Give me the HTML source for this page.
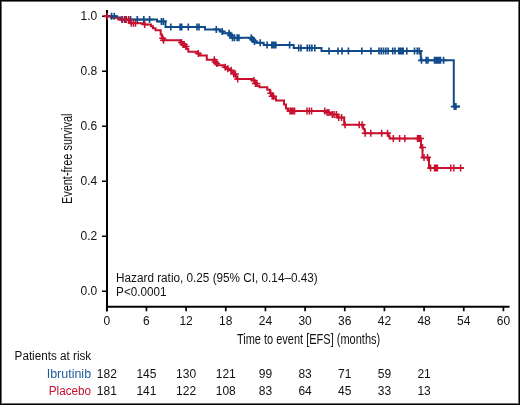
<!DOCTYPE html>
<html><head><meta charset="utf-8"><style>
html,body{margin:0;padding:0;background:#fff;}
body{width:520px;height:405px;overflow:hidden;}
svg{display:block;will-change:transform;}
text{font-family:"Liberation Sans",sans-serif;font-size:12px;fill:#111;}
</style></head><body>
<svg width="520" height="405" viewBox="0 0 520 405">
<rect x="0" y="0" width="520" height="405" fill="#fff"/>
<g fill="none" stroke="#000" stroke-width="1.5">
<path d="M102 16.3H106M102 71.3H106M102 126.3H106M102 181.3H106M102 236.3H106M102 291.3H106"/>
<path d="M106.80 306V311.3M146.46 306V311.3M186.12 306V311.3M225.78 306V311.3M265.44 306V311.3M305.10 306V311.3M344.76 306V311.3M384.42 306V311.3M424.08 306V311.3M463.74 306V311.3M503.40 306V311.3" stroke-width="1.7"/>
<path d="M107 10.1V311.3" stroke-width="2"/>
<path d="M106 306.8H509.6" stroke-width="1.9"/>
</g>
<g fill="none" stroke-linejoin="miter" stroke-linecap="butt">
<path d="M107.0 16.3 H117.0 V17.6 H121.0 V19.6 H157.0 V21.4 H165.5 V27.0 H205.0 V29.4 H220.2 V31.4 H222.8 V33.3 H229.8 V35.3 H231.8 V37.8 H252.0 V39.6 H254.0 V41.4 H256.2 V42.8 H263.7 V45.0 H293.7 V48.1 H321.5 V51.1 H420.8 V60.3 H453.8 V106.6 H460.0" stroke="#114b89" stroke-width="2"/>
<path d="M104.0 16.3 H111.0 V17.7 H118.3 V19.4 H130.2 V23.2 H142.8 V23.5 H144.5 V24.6 H151.0 V26.3 H153.0 V28.2 H155.5 V30.3 H160.7 V34.5 H161.8 V38.3 H163.4 V40.2 H180.4 V42.5 H182.5 V44.5 H184.5 V46.5 H186.5 V49.0 H188.3 V51.8 H197.5 V53.4 H199.9 V55.4 H206.8 V59.8 H214.3 V62.0 H215.8 V63.6 H217.2 V65.2 H224.6 V67.2 H227.1 V68.7 H228.6 V70.2 H231.5 V72.2 H233.5 V74.1 H235.5 V76.1 H236.5 V78.9 H252.4 V80.4 H255.0 V83.4 H257.0 V85.8 H259.5 V87.3 H267.3 V89.8 H270.0 V93.2 H272.0 V96.2 H274.0 V98.2 H276.0 V100.6 H284.0 V104.6 H286.0 V108.5 H288.0 V110.9 H325.4 V112.6 H330.4 V114.6 H337.5 V117.6 H344.2 V124.8 H363.3 V129.0 H364.6 V133.2 H388.6 V136.3 H389.6 V138.6 H421.0 V147.5 H422.5 V157.5 H429.0 V168.0 H463.5" stroke="#c8102e" stroke-width="2"/>
<path d="M111.6 12.8V19.8M108.1 16.3H115.1M114.3 12.8V19.8M110.8 16.3H117.8M122.5 16.1V23.1M119.0 19.6H126.0M124.8 16.1V23.1M121.3 19.6H128.3M130.5 16.1V23.1M127.0 19.6H134.0M137.3 16.1V23.1M133.8 19.6H140.8M143.8 16.1V23.1M140.3 19.6H147.3M149.6 16.1V23.1M146.1 19.6H153.1M161.4 17.9V24.9M157.9 21.4H164.9M163.4 17.9V24.9M159.9 21.4H166.9M170.8 23.5V30.5M167.3 27.0H174.3M180.1 23.5V30.5M176.6 27.0H183.6M181.7 23.5V30.5M178.2 27.0H185.2M188.3 23.5V30.5M184.8 27.0H191.8M197.0 23.5V30.5M193.5 27.0H200.5M199.0 23.5V30.5M195.5 27.0H202.5M216.3 25.9V32.9M212.8 29.4H219.8M222.2 27.9V34.9M218.7 31.4H225.7M229.1 29.8V36.8M225.6 33.3H232.6M230.6 31.8V38.8M227.1 35.3H234.1M232.5 34.3V41.3M229.0 37.8H236.0M234.5 34.3V41.3M231.0 37.8H238.0M237.2 34.3V41.3M233.7 37.8H240.7M238.9 34.3V41.3M235.4 37.8H242.4M251.3 34.3V41.3M247.8 37.8H254.8M252.7 36.1V43.1M249.2 39.6H256.2M254.5 37.9V44.9M251.0 41.4H258.0M260.2 39.3V46.3M256.7 42.8H263.7M267.1 41.5V48.5M263.6 45.0H270.6M271.8 41.5V48.5M268.3 45.0H275.3M272.9 41.5V48.5M269.4 45.0H276.4M274.1 41.5V48.5M270.6 45.0H277.6M275.8 41.5V48.5M272.3 45.0H279.3M289.6 41.5V48.5M286.1 45.0H293.1M298.7 44.6V51.6M295.2 48.1H302.2M301.0 44.6V51.6M297.5 48.1H304.5M307.3 44.6V51.6M303.8 48.1H310.8M309.6 44.6V51.6M306.1 48.1H313.1M311.9 44.6V51.6M308.4 48.1H315.4M314.8 44.6V51.6M311.3 48.1H318.3M329.0 47.6V54.6M325.5 51.1H332.5M338.0 47.6V54.6M334.5 51.1H341.5M342.0 47.6V54.6M338.5 51.1H345.5M348.4 47.6V54.6M344.9 51.1H351.9M361.8 47.6V54.6M358.3 51.1H365.3M370.9 47.6V54.6M367.4 51.1H374.4M379.0 47.6V54.6M375.5 51.1H382.5M381.2 47.6V54.6M377.7 51.1H384.7M383.5 47.6V54.6M380.0 51.1H387.0M385.8 47.6V54.6M382.3 51.1H389.3M388.1 47.6V54.6M384.6 51.1H391.6M392.7 47.6V54.6M389.2 51.1H396.2M395.0 47.6V54.6M391.5 51.1H398.5M398.7 47.6V54.6M395.2 51.1H402.2M400.2 47.6V54.6M396.7 51.1H403.7M401.7 47.6V54.6M398.2 51.1H405.2M403.2 47.6V54.6M399.7 51.1H406.7M406.8 47.6V54.6M403.3 51.1H410.3M414.5 47.6V54.6M411.0 51.1H418.0M417.3 47.6V54.6M413.8 51.1H420.8M419.3 47.6V54.6M415.8 51.1H422.8M421.5 56.8V63.8M418.0 60.3H425.0M426.2 56.8V63.8M422.7 60.3H429.7M428.0 56.8V63.8M424.5 60.3H431.5M434.5 56.8V63.8M431.0 60.3H438.0M436.0 56.8V63.8M432.5 60.3H439.5M437.5 56.8V63.8M434.0 60.3H441.0M439.0 56.8V63.8M435.5 60.3H442.5M440.5 56.8V63.8M437.0 60.3H444.0M443.6 56.8V63.8M440.1 60.3H447.1M454.3 103.1V110.1M450.8 106.6H457.8M455.9 103.1V110.1M452.4 106.6H459.4" stroke="#114b89" stroke-width="1.65"/>
<path d="M107.2 12.8V19.8M103.7 16.3H110.7M121.9 15.9V22.9M118.4 19.4H125.4M125.3 15.9V22.9M121.8 19.4H128.8M126.4 15.9V22.9M122.9 19.4H129.9M128.7 15.9V22.9M125.2 19.4H132.2M131.2 19.7V26.7M127.7 23.2H134.7M133.4 19.7V26.7M129.9 23.2H136.9M135.5 19.7V26.7M132.0 23.2H139.0M144.7 21.1V28.1M141.2 24.6H148.2M162.7 34.8V41.8M159.2 38.3H166.2M163.6 36.7V43.7M160.1 40.2H167.1M181.5 39.0V46.0M178.0 42.5H185.0M183.0 41.0V48.0M179.5 44.5H186.5M184.2 41.0V48.0M180.7 44.5H187.7M186.0 43.0V50.0M182.5 46.5H189.5M198.3 49.9V56.9M194.8 53.4H201.8M214.3 56.3V63.3M210.8 59.8H217.8M215.2 58.5V65.5M211.7 62.0H218.7M216.7 60.1V67.1M213.2 63.6H220.2M225.3 63.7V70.7M221.8 67.2H228.8M227.8 65.2V72.2M224.3 68.7H231.3M231.2 66.7V73.7M227.7 70.2H234.7M233.7 70.6V77.6M230.2 74.1H237.2M235.4 70.6V77.6M231.9 74.1H238.9M237.7 75.4V82.4M234.2 78.9H241.2M253.9 76.9V83.9M250.4 80.4H257.4M255.4 79.9V86.9M251.9 83.4H258.9M256.9 79.9V86.9M253.4 83.4H260.4M270.7 89.7V96.7M267.2 93.2H274.2M272.2 92.7V99.7M268.7 96.2H275.7M273.5 92.7V99.7M270.0 96.2H277.0M290.0 107.4V114.4M286.5 110.9H293.5M291.5 107.4V114.4M288.0 110.9H295.0M293.0 107.4V114.4M289.5 110.9H296.5M294.6 107.4V114.4M291.1 110.9H298.1M307.0 107.4V114.4M303.5 110.9H310.5M309.3 107.4V114.4M305.8 110.9H312.8M311.6 107.4V114.4M308.1 110.9H315.1M324.8 107.4V114.4M321.3 110.9H328.3M327.1 109.1V116.1M323.6 112.6H330.6M328.9 109.1V116.1M325.4 112.6H332.4M332.3 111.1V118.1M328.8 114.6H335.8M334.1 111.1V118.1M330.6 114.6H337.6M336.4 111.1V118.1M332.9 114.6H339.9M338.7 114.1V121.1M335.2 117.6H342.2M341.6 114.1V121.1M338.1 117.6H345.1M345.0 121.3V128.3M341.5 124.8H348.5M359.2 121.3V128.3M355.7 124.8H362.7M362.1 121.3V128.3M358.6 124.8H365.6M365.2 129.7V136.7M361.7 133.2H368.7M370.8 129.7V136.7M367.3 133.2H374.3M381.7 129.7V136.7M378.2 133.2H385.2M387.5 129.7V136.7M384.0 133.2H391.0M393.3 135.1V142.1M389.8 138.6H396.8M399.6 135.1V142.1M396.1 138.6H403.1M404.8 135.1V142.1M401.3 138.6H408.3M417.5 135.1V142.1M414.0 138.6H421.0M419.0 135.1V142.1M415.5 138.6H422.5M420.5 135.1V142.1M417.0 138.6H424.0M422.5 144.0V151.0M419.0 147.5H426.0M424.0 154.0V161.0M420.5 157.5H427.5M427.5 154.0V161.0M424.0 157.5H431.0M430.6 164.5V171.5M427.1 168.0H434.1M434.5 164.5V171.5M431.0 168.0H438.0M436.0 164.5V171.5M432.5 168.0H439.5M437.4 164.5V171.5M433.9 168.0H440.9M450.8 164.5V171.5M447.3 168.0H454.3M453.8 164.5V171.5M450.3 168.0H457.3M460.6 164.5V171.5M457.1 168.0H464.1" stroke="#c8102e" stroke-width="1.5"/>
</g>
<g>
<text x="97.3" y="20.0" text-anchor="end">1.0</text><text x="97.3" y="75.0" text-anchor="end">0.8</text><text x="97.3" y="130.0" text-anchor="end">0.6</text><text x="97.3" y="185.0" text-anchor="end">0.4</text><text x="97.3" y="240.0" text-anchor="end">0.2</text><text x="97.3" y="295.0" text-anchor="end">0.0</text>
<text x="106.80" y="324.7" text-anchor="middle">0</text><text x="146.46" y="324.7" text-anchor="middle">6</text><text x="186.12" y="324.7" text-anchor="middle">12</text><text x="225.78" y="324.7" text-anchor="middle">18</text><text x="265.44" y="324.7" text-anchor="middle">24</text><text x="305.10" y="324.7" text-anchor="middle">30</text><text x="344.76" y="324.7" text-anchor="middle">36</text><text x="384.42" y="324.7" text-anchor="middle">42</text><text x="424.08" y="324.7" text-anchor="middle">48</text><text x="463.74" y="324.7" text-anchor="middle">54</text><text x="503.40" y="324.7" text-anchor="middle">60</text>
<text x="116.1" y="281.9" textLength="201.6" lengthAdjust="spacingAndGlyphs">Hazard ratio, 0.25 (95% CI, 0.14–0.43)</text>
<text x="116.1" y="295.8" textLength="50.3" lengthAdjust="spacingAndGlyphs">P&lt;0.0001</text>
<text x="236.9" y="344.2" style="font-size:14.5px" textLength="143.3" lengthAdjust="spacingAndGlyphs">Time to event [EFS] (months)</text>
<text transform="translate(71.7 204.1) rotate(-90)" x="0" y="0" style="font-size:15px" textLength="90.6" lengthAdjust="spacingAndGlyphs">Event-free survival</text>
<text x="14.6" y="359.8" textLength="76.6" lengthAdjust="spacingAndGlyphs">Patients at risk</text>
<text x="91.1" y="377.5" text-anchor="end" textLength="44.4" lengthAdjust="spacingAndGlyphs" style="fill:#1f5c9a">Ibrutinib</text>
<text x="91.1" y="394.6" text-anchor="end" textLength="42.3" lengthAdjust="spacingAndGlyphs" style="fill:#c8102e">Placebo</text>
<text x="106.80" y="377.9" text-anchor="middle">182</text><text x="106.80" y="394.8" text-anchor="middle">181</text><text x="146.46" y="377.9" text-anchor="middle">145</text><text x="146.46" y="394.8" text-anchor="middle">141</text><text x="186.12" y="377.9" text-anchor="middle">130</text><text x="186.12" y="394.8" text-anchor="middle">122</text><text x="225.78" y="377.9" text-anchor="middle">121</text><text x="225.78" y="394.8" text-anchor="middle">108</text><text x="265.44" y="377.9" text-anchor="middle">99</text><text x="265.44" y="394.8" text-anchor="middle">83</text><text x="305.10" y="377.9" text-anchor="middle">83</text><text x="305.10" y="394.8" text-anchor="middle">64</text><text x="344.76" y="377.9" text-anchor="middle">71</text><text x="344.76" y="394.8" text-anchor="middle">45</text><text x="384.42" y="377.9" text-anchor="middle">59</text><text x="384.42" y="394.8" text-anchor="middle">33</text><text x="424.08" y="377.9" text-anchor="middle">21</text><text x="424.08" y="394.8" text-anchor="middle">13</text>
</g>
<rect x="0.5" y="0.5" width="519" height="404" fill="none" stroke="#000" stroke-width="1"/>
<rect x="1.5" y="1.5" width="517" height="402" fill="none" stroke="#6c6c6c" stroke-width="1"/>
</svg>
</body></html>
